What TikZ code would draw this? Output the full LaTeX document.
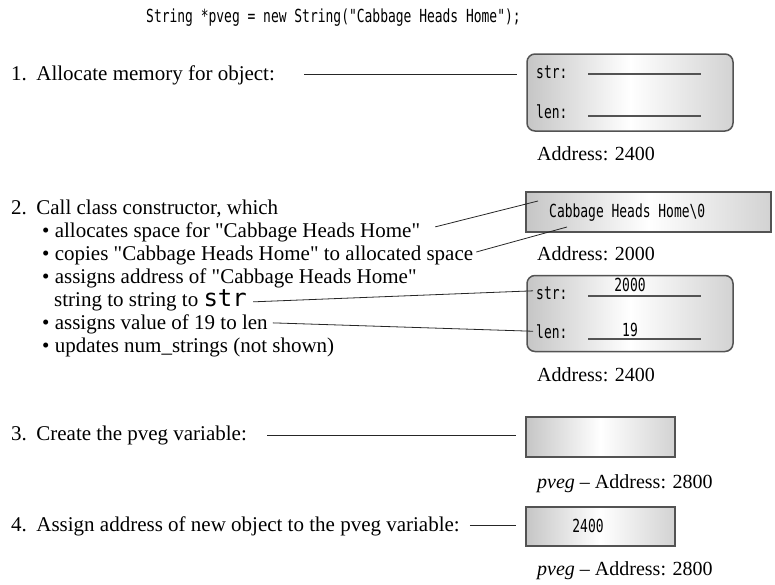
\documentclass[tikz,border=0pt]{standalone}
\usepackage{fontspec}
\setmainfont{Liberation Serif}
\newfontfamily\codefont[FakeStretch=0.72]{DejaVu Sans Mono}
\newfontfamily\bigcodefont{DejaVu Sans Mono}
\usetikzlibrary{positioning,calc}
\newcommand{\qt}{\textquotedbl}

\tikzset{
  txt/.style={anchor=base west, inner sep=0pt, font=\fontsize{21}{24}\selectfont},
  label/.style={anchor=base west, inner sep=0pt, font=\fontsize{20}{24}\selectfont},
  code/.style={anchor=base west, inner sep=0pt, font=\codefont\fontsize{18}{20}\selectfont},
  cell/.style={draw=gray!65!black, line width=1.5pt, left color=gray!45, right color=gray!35, middle color=white, inner sep=0pt},
  slot/.style={draw=gray!65!black, line width=1.2pt},
  leader/.style={draw=black!85, line width=0.8pt}
}

\begin{document}
\begin{tikzpicture}[x=1pt, y=-1pt]
    \useasboundingbox (0,0) rectangle (775,584);

    % statement
    \node[code] (stmt) at (146,22) {String *pveg = new String("Cabbage Heads Home");};

    % step 1: allocate the object
    \node[txt] (step1) at (11,80) {1.\hspace{0.45em}Allocate memory for object:};
    \node[cell, rounded corners=8pt, minimum width=206pt, minimum height=77pt] (obj1) at (630,92.5) {};
    \node[code] (str1) at (536,78) {str:};
    \node[code] (len1) at (536,118) {len:};
    \draw[slot] (588,74) -- (701,74);
    \draw[slot] (588,116) -- (701,116);
    \node[label] (adr1) at (537,160) {Address: 2400};
    \draw[leader, shorten <=29pt, shorten >=9pt] (step1.east) -- (step1.east -| obj1.west);

    % step 2: constructor
    \node[txt] (step2) at (11,214) {2.\hspace{0.45em}Call class constructor, which};
    \node[txt] (b1) at (42,237) {\textbullet\ allocates space for \qt Cabbage Heads Home\qt};
    \node[txt] (b2) at (42,260) {\textbullet\ copies \qt Cabbage Heads Home\qt\ to allocated space};
    \node[txt] (b3) at (42,283) {\textbullet\ assigns address of \qt Cabbage Heads Home\qt};
    \node[txt] (b4) at (54,306) {string to string to {\bigcodefont\fontsize{24}{24}\selectfont str}};
    \node[txt] (b5) at (42,329) {\textbullet\ assigns value of 19 to len};
    \node[txt] (b6) at (42,352) {\textbullet\ updates num\_strings (not shown)};

    \node[cell, minimum width=245pt, minimum height=40pt] (buf) at (648.5,212) {};
    \node[code] (buftxt) at (549,217) {Cabbage Heads Home\textbackslash0};
    \node[label] (adr2) at (537,260) {Address: 2000};
    \coordinate (alloc) at (538,201);
    \coordinate (copy) at (567,227);

    \node[cell, rounded corners=8pt, minimum width=206pt, minimum height=76pt] (obj2) at (630,313.5) {};
    \node[code] (str2) at (536,299) {str:};
    \node[code] (len2) at (536,338) {len:};
    \draw[slot] (588,296) -- (701,296);
    \draw[slot] (588,339) -- (701,339);
    \node[code, anchor=base] (val1) at (630,291) {2000};
    \node[code, anchor=base] (val2) at (630,336) {19};
    \node[label] (adr3) at (537,381) {Address: 2400};

    \draw[leader] ([xshift=15pt,yshift=5pt]b1.east) -- (alloc);
    \draw[leader] ([xshift=3pt,yshift=3pt]b2.east) -- (copy);
    \draw[leader] ([xshift=6pt,yshift=-2pt]b4.east) -- ([xshift=-3pt,yshift=2pt]str2.west);
    \draw[leader] ([xshift=5pt,yshift=1pt]b5.east) -- ([xshift=-3pt]len2.west);

    % step 3: pointer variable
    \node[txt] (step3) at (11,440) {3.\hspace{0.45em}Create the pveg variable:};
    \node[cell, minimum width=149pt, minimum height=40pt] (ptr1) at (600.5,437) {};
    \node[label] (adr4) at (537,488) {\textit{pveg} -- Address: 2800};
    \draw[leader, shorten <=20pt, shorten >=9pt] (step3.east) -- (step3.east -| ptr1.west);

    % step 4: assign the address
    \node[txt] (step4) at (11,531) {4.\hspace{0.45em}Assign address of new object to the pveg variable:};
    \node[cell, minimum width=149pt, minimum height=39pt] (ptr2) at (600.5,526.5) {};
    \node[code, anchor=base] (val3) at (588,532) {2400};
    \node[label] (adr5) at (537,575) {\textit{pveg} -- Address: 2800};
    \draw[leader, shorten <=10pt, shorten >=9pt] (step4.east) -- (step4.east -| ptr2.west);
\end{tikzpicture}
\end{document}
